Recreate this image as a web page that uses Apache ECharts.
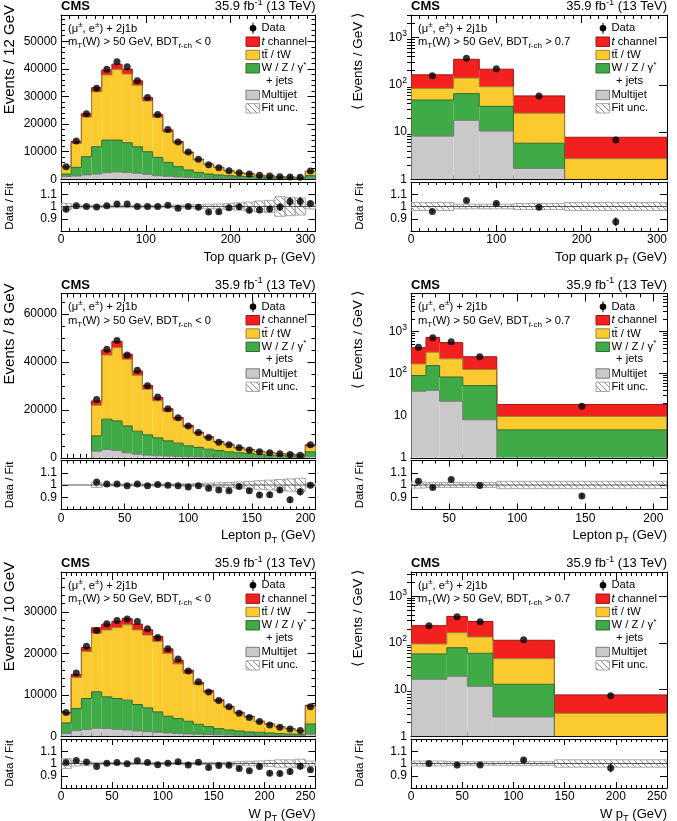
<!DOCTYPE html>
<html><head><meta charset="utf-8">
<script src="https://cdn.jsdelivr.net/npm/echarts@6/dist/echarts.min.js"></script>
<style>html,body{margin:0;padding:0;background:#fff}#chart{width:677px;height:821px}</style>
</head><body><div id="chart"></div>
<script>
// ---------------- DATA ----------------
// Top quark pT, BDT < 0 (events per 12 GeV bin)
const topL_edges = [0,12,24,36,48,60,72,84,96,108,120,132,144,156,168,180,192,204,216,228,240,252,264,276,288,300];
const topL_multijet = [1000,1200,1600,1900,2400,2650,2500,2200,1800,1300,1100,850,700,500,400,330,280,230,200,170,150,130,110,100,350];
const topL_wjets = [900,3140,6590,9900,11800,11550,10750,9600,8200,6650,5040,3730,2670,2030,1530,1240,1050,850,760,670,570,470,410,380,980];
const topL_ttbar = [2490,8620,14340,19870,23600,25600,24870,22260,18340,14540,10950,8520,6060,4400,3370,2640,1680,1210,930,570,440,310,250,180,1460];
const topL_tchan = [300,800,1200,1500,1800,1900,1800,1600,1300,1000,800,600,450,350,250,200,150,120,100,80,60,50,40,30,150];
const topL_data = [4580,13860,23730,33000,39880,42530,40720,35660,29640,23490,18070,13490,9880,7230,5300,4220,3130,2410,1930,1450,1200,960,840,720,3010];
const topL_ratio = [0.977,1.007,1.0,0.995,1.007,1.02,1.02,1.0,1.0,1.0,1.01,0.985,1.0,0.993,0.955,0.957,0.99,0.998,0.97,0.972,0.98,0.995,1.04,1.04,1.025];
const topL_ratioErr = [0.015,0.008,0.007,0.005,0.005,0.005,0.005,0.005,0.006,0.007,0.007,0.009,0.01,0.012,0.014,0.015,0.018,0.02,0.023,0.026,0.029,0.032,0.035,0.038,0.018];
const topL_fitUnc = [0.025,0.012,0.01,0.01,0.01,0.01,0.01,0.01,0.01,0.01,0.01,0.012,0.012,0.015,0.018,0.02,0.025,0.03,0.035,0.045,0.05,0.08,0.075,0.07,0.02];

// Top quark pT, BDT > 0.7 (events / GeV)
const topR_edges = [0,50,80,120,180,300];
const topR_multijet = [8.2,17.7,10.5,1.7,0.3];
const topR_wjets = [39.5,47.3,24.5,4.1,0.6];
const topR_ttbar = [36.3,74,56,19.2,1.83];
const topR_tchan = [78.5,208,123,33.2,5.03];
const topR_data = [156,364,219,57.8,6.8];
const topR_ratio = [0.96,1.048,1.024,0.993,0.876];
const topR_ratioErr = [0.011,0.01,0.01,0.011,0.035];
const topR_fitUnc = [0.033,0.019,0.019,0.024,0.033];

// Lepton pT, BDT < 0 (events per 8 GeV bin)
const lepL_edges = [24,32,40,48,56,64,72,80,88,96,104,112,120,128,136,144,152,160,168,176,184,192,200];
const lepL_multijet = [2780,3470,3060,2080,1530,1110,830,700,560,420,350,300,250,200,180,150,120,100,90,80,70,400];
const lepL_wjets = [6390,12630,12340,11220,9570,8470,7500,6380,5550,4580,3950,3300,2810,2300,1900,1650,1270,1010,880,750,630,2100];
const lepL_ttbar = [12740,26740,30510,27800,23310,19030,15440,12160,9710,7730,5720,4620,3290,2820,1890,1430,1140,1020,670,650,370,2210];
const lepL_tchan = [1800,2100,2600,2100,1800,1600,1400,1200,1000,800,650,520,420,350,280,230,190,150,130,110,90,700];
const lepL_data = [24300,45300,48900,42900,36500,30000,25300,20400,16700,13300,10600,8500,6500,5400,4200,3300,2500,2100,1700,1400,1100,5400];
const lepL_ratio = [1.025,1.008,1.008,0.993,1.008,0.993,1.005,0.998,0.993,0.983,0.993,0.973,0.96,0.953,0.988,0.953,0.918,0.92,0.96,0.88,0.945,0.998];
const lepL_ratioErr = [0.007,0.005,0.005,0.005,0.005,0.006,0.006,0.007,0.008,0.009,0.01,0.011,0.012,0.014,0.015,0.017,0.02,0.022,0.024,0.027,0.03,0.014];
const lepL_fitUnc = [0.02,0.008,0.008,0.008,0.008,0.008,0.008,0.008,0.008,0.01,0.012,0.015,0.018,0.02,0.025,0.03,0.035,0.04,0.045,0.05,0.055,0.015];

// Lepton pT, BDT > 0.7 (events / GeV)
const lepR_edges = [22,33,43,60,85,210];
const lepR_multijet = [38,40,22,8,0.5];
const lepR_wjets = [52,115,61,44,4.1];
const lepR_ttbar = [80,167,141,73,5.0];
const lepR_tchan = [243,404,321,126,8.9];
const lepR_data = [425,711,570,250,16.8];
const lepR_ratio = [1.03,0.98,1.045,0.995,0.91];
const lepR_ratioErr = [0.014,0.011,0.009,0.008,0.021];
const lepR_fitUnc = [0.025,0.02,0.02,0.02,0.03];

// W pT, BDT < 0 (events per 10 GeV bin)
const wL_edges = [0,10,20,30,40,50,60,70,80,90,100,110,120,130,140,150,160,170,180,190,200,210,220,230,240,250];
const wL_multijet = [650,1370,1610,1940,1850,1690,1530,1290,1130,970,810,650,560,500,420,350,300,250,220,190,170,150,130,110,500];
const wL_wjets = [2580,5320,7500,8790,7670,7420,7180,6370,5730,4920,4030,3620,3070,2400,1920,1500,1230,1040,830,780,640,500,430,370,2480];
const wL_ttbar = [2200,7480,11310,14120,16100,17070,18150,17980,17540,16950,15130,13180,11540,9520,8160,6530,5380,4250,3560,2510,2040,1620,1250,860,4210];
const wL_tchan = [250,700,1000,1300,1400,1500,1500,1400,1300,1200,1100,900,750,600,500,400,300,250,200,160,130,100,80,60,300];
const wL_data = [5730,15240,21700,25500,27100,27900,28300,27660,25900,23800,21130,18630,15730,13150,10650,8630,7100,5560,4520,3550,2740,2180,1770,1370,7100];
const wL_ratio = [1.008,1.025,1.013,0.975,1.003,1.008,0.998,1.023,1.008,0.99,1.003,1.015,0.988,1.01,0.968,0.983,0.985,0.96,0.94,0.975,0.92,0.918,0.935,0.978,0.948];
const wL_ratioErr = [0.013,0.008,0.007,0.006,0.006,0.006,0.006,0.006,0.006,0.006,0.007,0.007,0.008,0.009,0.01,0.011,0.012,0.013,0.015,0.017,0.019,0.021,0.024,0.027,0.012];
const wL_fitUnc = [0.04,0.02,0.015,0.01,0.008,0.008,0.008,0.008,0.008,0.008,0.008,0.008,0.008,0.008,0.008,0.01,0.012,0.015,0.018,0.02,0.025,0.03,0.03,0.035,0.02];

// W pT, BDT > 0.7 (events / GeV)
const wR_edges = [0,35,55,80,140,250];
const wR_multijet = [16.6,19.3,11.8,2.6,0.3];
const wR_wjets = [41.4,59.7,48.2,10.4,0.5];
const wR_ttbar = [37,86,74,33,2.3];
const wR_tchan = [139,204,154,68,4.6];
const wR_data = [234,365,285,117,7.4];
const wR_ratio = [1.0,0.988,0.988,1.029,0.964];
const wR_ratioErr = [0.01,0.011,0.01,0.012,0.035];
const wR_fitUnc = [0.02,0.015,0.015,0.015,0.03];

// tick values
const logMajorTicks = [1,10,100,1000];
const logMinorTicks3k = [2,3,4,5,6,7,8,9,20,30,40,50,60,70,80,90,200,300,400,500,600,700,800,900,2000,3000];
const logMinorTicks8k = [2,3,4,5,6,7,8,9,20,30,40,50,60,70,80,90,200,300,400,500,600,700,800,900,2000,3000,4000,5000,6000,7000,8000];
const lepR_xMajorTicks = [50,100,150,200];
const lepR_xMinorTicks = [30,40,60,70,80,90,110,120,130,140,160,170,180,190];
const ratioOuterLabels = [0.9,1.1];
const ratioCenterLabel = [1];

// ---------------- STYLE / LAYOUT ----------------
const FONT = '"Liberation Sans", Arial, Helvetica, sans-serif';
const FILL = {mj:'#c9c9c9', wj:'#3faa46', tt:'#fbca2f', tch:'#f2201e'};
const LINE = {mj:'#7a7a7a', wj:'#2f6b33', tt:'#9a8436', tch:'#a01414'};
const LINEZ = {mj:13, wj:12, tt:11, tch:10};
const COLS = [{left:61, width:254.5}, {left:411, width:256}];
const ROW_DY = [0, 278.5, 557];
const MAIN_TOP = 15, MAIN_H = 164.3, RATIO_TOP = 182, RATIO_H = 49;
const TICK_FS = 12, LEG_FS = 11.2, INFO_FS = 11.2, YTITLE_FS = 15, YTITLE_R_FS = 13.5, XTITLE_FS = 13, RTITLE_FS = 11.5;

const hatch = (function(){
  const s = 6, c = document.createElement('canvas'); c.width = s; c.height = s;
  const g = c.getContext('2d'); g.strokeStyle = '#8e8e8e'; g.lineWidth = 1;
  g.beginPath(); g.moveTo(-1,-1); g.lineTo(s+1,s+1); g.moveTo(-1,s-1); g.lineTo(1,s+1); g.moveTo(s-1,-1); g.lineTo(s+1,1); g.stroke();
  return c;
})();
const hatchFill = {image: hatch, repeat: 'repeat'};

const panels = [
  {col:0,row:0, edges:topL_edges, mj:topL_multijet, wj:topL_wjets, tt:topL_ttbar, tch:topL_tchan, data:topL_data, ratio:topL_ratio, rerr:topL_ratioErr, unc:topL_fitUnc,
   log:false, yMax:59500, yInt:10000, yMinorSplit:5, xMin:0, xMax:300, xInt:100, xMinorSplit:10,
   yTitle:'{n|Events / 12 GeV}', xTitle:'{n|Top quark p}{sub|T}{n| (GeV)}', bdt:'< 0'},
  {col:1,row:0, edges:topR_edges, mj:topR_multijet, wj:topR_wjets, tt:topR_ttbar, tch:topR_tchan, data:topR_data, ratio:topR_ratio, rerr:topR_ratioErr, unc:topR_fitUnc,
   log:true, yMax:3000, yMajor:logMajorTicks, yMinor:logMinorTicks3k, xMin:0, xMax:300, xInt:100, xMinorSplit:10,
   yTitle:'{n|\u27E8 Events / GeV \u27E9}', xTitle:'{n|Top quark p}{sub|T}{n| (GeV)}', bdt:'> 0.7'},
  {col:0,row:1, edges:lepL_edges, mj:lepL_multijet, wj:lepL_wjets, tt:lepL_ttbar, tch:lepL_tchan, data:lepL_data, ratio:lepL_ratio, rerr:lepL_ratioErr, unc:lepL_fitUnc,
   log:false, yMax:68500, yInt:20000, yMinorSplit:4, xMin:0, xMax:200, xInt:50, xMinorSplit:10,
   yTitle:'{n|Events / 8 GeV}', xTitle:'{n|Lepton p}{sub|T}{n| (GeV)}', bdt:'< 0'},
  {col:1,row:1, edges:lepR_edges, mj:lepR_multijet, wj:lepR_wjets, tt:lepR_ttbar, tch:lepR_tchan, data:lepR_data, ratio:lepR_ratio, rerr:lepR_ratioErr, unc:lepR_fitUnc,
   log:true, yMax:8000, yMajor:logMajorTicks, yMinor:logMinorTicks8k, xMin:22, xMax:210, xMajor:lepR_xMajorTicks, xMinor:lepR_xMinorTicks,
   yTitle:'{n|\u27E8 Events / GeV \u27E9}', xTitle:'{n|Lepton p}{sub|T}{n| (GeV)}', bdt:'> 0.7'},
  {col:0,row:2, edges:wL_edges, mj:wL_multijet, wj:wL_wjets, tt:wL_ttbar, tch:wL_tchan, data:wL_data, ratio:wL_ratio, rerr:wL_ratioErr, unc:wL_fitUnc,
   log:false, yMax:39600, yInt:10000, yMinorSplit:5, xMin:0, xMax:250, xInt:50, xMinorSplit:10,
   yTitle:'{n|Events / 10 GeV}', xTitle:'{n|W p}{sub|T}{n| (GeV)}', bdt:'< 0'},
  {col:1,row:2, edges:wR_edges, mj:wR_multijet, wj:wR_wjets, tt:wR_ttbar, tch:wR_tchan, data:wR_data, ratio:wR_ratio, rerr:wR_ratioErr, unc:wR_fitUnc,
   log:true, yMax:3300, yMajor:logMajorTicks, yMinor:logMinorTicks3k, xMin:0, xMax:250, xInt:50, xMinorSplit:10,
   yTitle:'{n|\u27E8 Events / GeV \u27E9}', xTitle:'{n|W p}{sub|T}{n| (GeV)}', bdt:'> 0.7'}
];

const option = {animation:false, backgroundColor:'#fff', grid:[], xAxis:[], yAxis:[], series:[], graphic:{elements:[]}};
const BLACK = {color:'#000', width:1};
const plainNum = v => String(Math.round(v * 1000) / 1000);

function richSet(fs) {
  const lh = Math.round(fs*1.4), sm = Math.round(fs*0.72*10)/10;
  return {
    n:{fontFamily:FONT, fontSize:fs, lineHeight:lh, fill:'#000', color:'#000'},
    b:{fontFamily:FONT, fontSize:fs, lineHeight:lh, fill:'#000', color:'#000', fontWeight:'bold'},
    i:{fontFamily:FONT, fontSize:fs, lineHeight:lh, fill:'#000', color:'#000', fontStyle:'italic'},
    sup:{fontFamily:FONT, fontSize:sm, lineHeight:sm+1, fill:'#000', color:'#000', verticalAlign:'top'},
    sub:{fontFamily:FONT, fontSize:sm, lineHeight:sm+1, fill:'#000', color:'#000', verticalAlign:'bottom'},
    subi:{fontFamily:FONT, fontSize:sm, lineHeight:sm+1, fill:'#000', color:'#000', fontStyle:'italic', verticalAlign:'bottom'}
  };
}

function mkX(gi, P, position, showLabel, len) {
  const a = {type:'value', gridIndex:gi, position, min:P.xMin, max:P.xMax,
    axisLine:{show:true, onZero:false, lineStyle:BLACK}, splitLine:{show:false},
    axisTick:{show:true, inside:true, length:len, lineStyle:BLACK},
    axisLabel:{show:showLabel, color:'#000', fontFamily:FONT, fontSize:TICK_FS, margin:3, formatter:plainNum, showMinLabel:true, showMaxLabel:true}};
  if (P.xMajor) { a.axisTick.customValues = P.xMajor; a.axisLabel.customValues = P.xMajor; }
  else { a.interval = P.xInt; a.minorTick = {show:true, splitNumber:P.xMinorSplit, length:len/2, lineStyle:BLACK}; a.axisLabel.alignMaxLabel = 'right'; }
  option.xAxis.push(a);
  const idx = option.xAxis.length - 1;
  if (P.xMinor) {
    option.xAxis.push({type:'value', gridIndex:gi, position, min:P.xMin, max:P.xMax, axisLine:{show:false}, splitLine:{show:false},
      axisLabel:{show:false}, axisTick:{show:true, inside:true, length:len/2, customValues:P.xMinor, lineStyle:BLACK}});
  }
  return idx;
}
function logFmt(v) {
  const e = Math.round(Math.log10(v));
  if (e === 0) return '{n|1}';
  if (e === 1) return '{n|10}';
  return '{n|10}{sup|' + e + '}';
}
function mkYMain(gi, P, position, showLabel) {
  const a = {gridIndex:gi, position, min:P.log ? 1 : 0, max:P.yMax,
    axisLine:{show:true, onZero:false, lineStyle:BLACK}, splitLine:{show:false},
    axisTick:{show:true, inside:true, length:8, lineStyle:BLACK},
    axisLabel:{show:showLabel, color:'#000', fontFamily:FONT, fontSize:TICK_FS, margin:4}};
  if (P.log) {
    a.type = 'log'; a.logBase = 10;
    a.axisTick.customValues = P.yMajor; a.axisLabel.customValues = P.yMajor;
    a.axisLabel.formatter = logFmt; a.axisLabel.rich = richSet(TICK_FS);
    a.axisLabel.showMinLabel = true; a.axisLabel.showMaxLabel = true;
  } else {
    a.type = 'value'; a.interval = P.yInt; a.axisLabel.showMaxLabel = false; a.axisLabel.showMinLabel = true;
    a.axisLabel.formatter = plainNum;
    a.minorTick = {show:true, splitNumber:P.yMinorSplit, length:4, lineStyle:BLACK};
  }
  option.yAxis.push(a);
  const idx = option.yAxis.length - 1;
  if (P.log) {
    option.yAxis.push({type:'log', logBase:10, gridIndex:gi, position, min:1, max:P.yMax, axisLine:{show:false}, splitLine:{show:false},
      axisLabel:{show:false}, axisTick:{show:true, inside:true, length:4, customValues:P.yMinor, lineStyle:BLACK}});
  }
  return idx;
}
function mkYRatio(gi, position, showLabel) {
  const idx = option.yAxis.length;
  [ratioOuterLabels, ratioCenterLabel].forEach(function(vals, k) {
    option.yAxis.push({type:'value', gridIndex:gi, position, min:0.8, max:1.2, interval:0.1,
      axisLine:{show:k === 0, onZero:false, lineStyle:BLACK}, splitLine:{show:false},
      axisTick:{show:true, inside:true, length:7, customValues:vals, lineStyle:BLACK},
      axisLabel:{show:showLabel, customValues:vals, showMinLabel:true, showMaxLabel:true,
        color:'#000', fontFamily:FONT, fontSize:TICK_FS, margin:4, formatter:plainNum}});
  });
  return idx;
}

function stackRender(ymin, fill, stroke, lz) {
  return function(params, api) {
    const x0 = api.value(0), x1 = api.value(1), lo = api.value(2), hi = api.value(3), prev = api.value(4), isLast = api.value(5);
    const c = v => Math.max(v, ymin);
    const A = api.coord([x0, c(lo)]), B = api.coord([x1, c(hi)]);
    const ch = [];
    if (c(hi) > c(lo)) ch.push({type:'rect', shape:{x:A[0], y:B[1], width:B[0]-A[0], height:A[1]-B[1]}, style:{fill:fill}, z2:0});
    if (hi > ymin) ch.push({type:'line', shape:{x1:A[0], y1:B[1], x2:B[0], y2:B[1]}, style:{stroke:stroke, lineWidth:1}, z2:lz});
    const pv = api.coord([x0, c(prev)]);
    if (Math.abs(pv[1] - B[1]) > 0.1) ch.push({type:'line', shape:{x1:A[0], y1:pv[1], x2:A[0], y2:B[1]}, style:{stroke:stroke, lineWidth:1}, z2:lz});
    if (isLast && hi > ymin) { const Z = api.coord([x1, ymin]); ch.push({type:'line', shape:{x1:B[0], y1:B[1], x2:B[0], y2:Z[1]}, style:{stroke:stroke, lineWidth:1}, z2:lz}); }
    return {type:'group', children:ch};
  };
}

const G = option.graphic.elements;
function txt(x, y, text, fs, extra) {
  const base = {text:text, rich:richSet(fs), fill:'#000', fontFamily:FONT, fontSize:fs, align:'left', verticalAlign:'middle', textAlign:'left', textVerticalAlign:'middle'};
  const e = Object.assign({type:'text', x:x, y:y, silent:true, z:100}, extra || {});
  e.style = Object.assign(base, (extra && extra.style) || {});
  G.push(e);
}

panels.forEach(function(P, pi) {
  const L = COLS[P.col].left, Wd = COLS[P.col].width, R = L + Wd;
  const T = MAIN_TOP + ROW_DY[P.row], rT = RATIO_TOP + ROW_DY[P.row], rB = rT + RATIO_H;
  const gMain = option.grid.length;
  option.grid.push({left:L, top:T, width:Wd, height:MAIN_H, containLabel:false, outerBoundsMode:'none'});
  const gRat = option.grid.length;
  option.grid.push({left:L, top:rT, width:Wd, height:RATIO_H, containLabel:false, outerBoundsMode:'none'});

  const xm = mkX(gMain, P, 'bottom', false, 8); mkX(gMain, P, 'top', false, 8);
  const ym = mkYMain(gMain, P, 'left', true); mkYMain(gMain, P, 'right', false);
  const xr = mkX(gRat, P, 'bottom', true, 6); mkX(gRat, P, 'top', false, 6);
  const yr = mkYRatio(gRat, 'left', true); mkYRatio(gRat, 'right', false);

  const n = P.edges.length - 1, ymin = P.log ? 1 : 0;
  const cum = new Array(n).fill(0);
  [['mj', P.mj], ['wj', P.wj], ['tt', P.tt], ['tch', P.tch]].forEach(function(pr) {
    const key = pr[0], vals = pr[1];
    const tops = vals.map((v, i) => cum[i] + v);
    const rows = tops.map((t, i) => [P.edges[i], P.edges[i+1], cum[i], t, i > 0 ? tops[i-1] : ymin, i === n-1 ? 1 : 0]);
    for (let i = 0; i < n; i++) cum[i] = tops[i];
    option.series.push({type:'custom', xAxisIndex:xm, yAxisIndex:ym, data:rows, clip:true, silent:true, z:2,
      encode:{x:[0,1], y:3}, renderItem:stackRender(ymin, FILL[key], LINE[key], LINEZ[key])});
  });
  const centers = P.data.map((v, i) => (P.edges[i] + P.edges[i+1]) / 2);
  option.series.push({type:'scatter', xAxisIndex:xm, yAxisIndex:ym, data:P.data.map((v, i) => [centers[i], v]),
    symbol:'circle', symbolSize:7, itemStyle:{color:'#000'}, z:5, silent:true});

  // ratio panel
  option.series.push({type:'custom', xAxisIndex:xr, yAxisIndex:yr, clip:true, silent:true, z:2,
    data:P.unc.map((u, i) => [P.edges[i], P.edges[i+1], 1-u, 1+u]), encode:{x:[0,1], y:[2,3]},
    renderItem:function(params, api) {
      const A = api.coord([api.value(0), api.value(3)]), B = api.coord([api.value(1), api.value(2)]);
      return {type:'rect', shape:{x:A[0], y:A[1], width:B[0]-A[0], height:B[1]-A[1]}, style:{fill:hatchFill, stroke:'#a8a8a8', lineWidth:1}};
    }});
  option.series.push({type:'line', xAxisIndex:xr, yAxisIndex:yr, data:[[P.xMin, 1], [P.xMax, 1]], symbol:'none', silent:true,
    lineStyle:{color:'#555', width:1}, z:3});
  option.series.push({type:'custom', xAxisIndex:xr, yAxisIndex:yr, clip:true, silent:true, z:4,
    data:P.ratio.map((r, i) => [centers[i], r - P.rerr[i], r + P.rerr[i]]), encode:{x:0, y:[1,2]},
    renderItem:function(params, api) {
      const A = api.coord([api.value(0), api.value(1)]), B = api.coord([api.value(0), api.value(2)]);
      return {type:'line', shape:{x1:A[0], y1:A[1], x2:B[0], y2:B[1]}, style:{stroke:'#000', lineWidth:1.2}};
    }});
  option.series.push({type:'scatter', xAxisIndex:xr, yAxisIndex:yr, data:P.ratio.map((r, i) => [centers[i], r]),
    symbol:'circle', symbolSize:7, itemStyle:{color:'#000'}, z:5, silent:true});

  // texts
  txt(L, T - 8.3, '{b|CMS}', 13);
  txt(R, T - 8.3, '{n|35.9 fb}{sup|-1}{n| (13 TeV)}', 13, {style:{align:'right', textAlign:'right'}});
  txt(L + 7, T + 13.5, '{n|(\u03BC}{sup|\u00B1}{n|, e}{sup|\u00B1}{n|) + 2j1b}', INFO_FS);
  txt(L + 7, T + 27, '{n|m}{sub|T}{n|(W) > 50 GeV, BDT}{subi|t}{sub|-ch}{n| ' + P.bdt + '}', INFO_FS);
  // legend
  const gx = L + 185, gy = T + 13.3;
  G.push({type:'line', silent:true, z:100, shape:{x1:gx+7, y1:gy-5.5, x2:gx+7, y2:gy+5.5}, style:{stroke:'#000', lineWidth:1}});
  G.push({type:'circle', silent:true, z:100, shape:{cx:gx+7, cy:gy, r:3.3}, style:{fill:'#000'}});
  txt(gx + 15.5, gy, '{n|Data}', LEG_FS);
  const rowsL = [
    {dy:13.4, fill:FILL.tch, stroke:LINE.tch, t:'{i|t}{n| channel}'},
    {dy:26.7, fill:FILL.tt, stroke:LINE.tt, t:'{n|tt\u0304 / tW}'},
    {dy:40, fill:FILL.wj, stroke:LINE.wj, t:'{n|W / Z / \u03B3}{sup|*}'},
    {dy:66.7, fill:FILL.mj, stroke:LINE.mj, t:'{n|Multijet}'},
    {dy:80, fill:hatchFill, stroke:'#a8a8a8', t:'{n|Fit unc.}'}
  ];
  rowsL.forEach(function(r) {
    G.push({type:'rect', silent:true, z:100, shape:{x:gx, y:gy + r.dy - 4.7, width:13.5, height:9.4}, style:{fill:r.fill, stroke:r.stroke, lineWidth:1}});
    txt(gx + 15.5, gy + r.dy, r.t, LEG_FS);
  });
  txt(gx + 20, gy + 52.4, '{n|+ jets}', LEG_FS);
  // axis titles
  if (P.col === 0) {
    txt(L - 51, T - 10, P.yTitle, YTITLE_FS, {rotation:Math.PI/2, style:{align:'right', textAlign:'right'}});
  } else {
    txt(L - 53, T + 46.5, P.yTitle, YTITLE_R_FS, {rotation:Math.PI/2, style:{align:'center', textAlign:'center'}});
  }
  txt(L - 51, (rT + rB) / 2, '{n|Data / Fit}', RTITLE_FS, {rotation:Math.PI/2, style:{align:'center', textAlign:'center'}});
  txt(R, rB + 26, P.xTitle, XTITLE_FS, {style:{align:'right', textAlign:'right'}});
});

const chart = echarts.init(document.getElementById('chart'), null, {renderer:'canvas', width:677, height:821});
chart.setOption(option);
</script></body></html>
